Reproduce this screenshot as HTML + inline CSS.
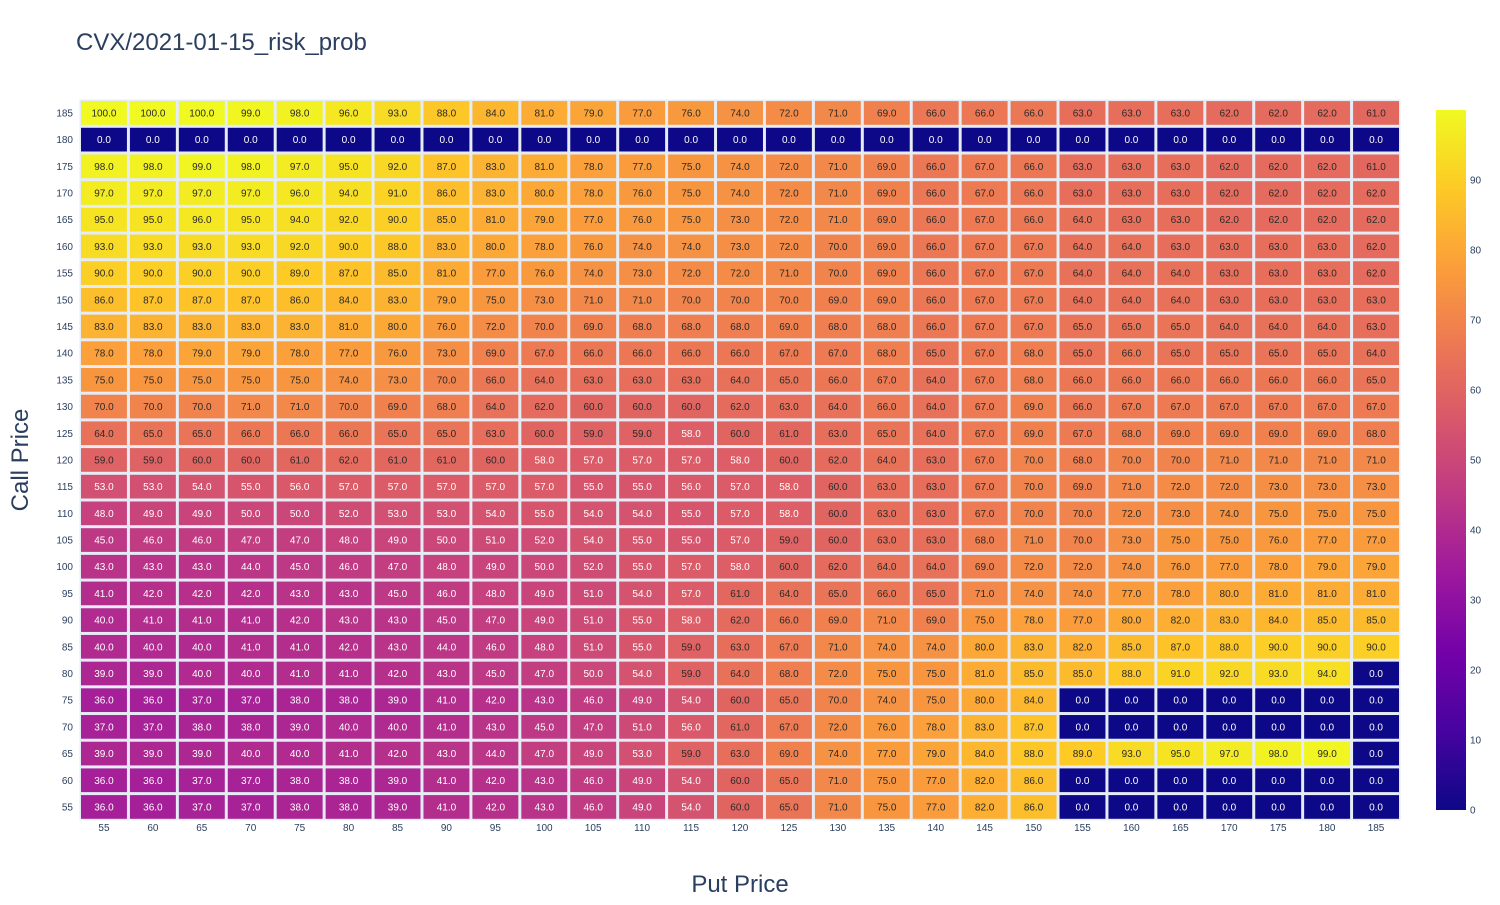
<!DOCTYPE html>
<html><head><meta charset="utf-8"><style>
body{margin:0;background:#fff;font-family:"Liberation Sans","DejaVu Sans",sans-serif}
</style></head><body>
<svg id="chart" width="1500" height="900" xmlns="http://www.w3.org/2000/svg">
<rect width="1500" height="900" fill="#fff"/>
<text x="76" y="50" font-size="24" fill="#2a3f5f">CVX/2021-01-15_risk_prob</text>
<rect x="79.5" y="99.6" width="1321" height="720.7" fill="#e5ecf6"/>
<g id="cells"></g><g id="labels"></g><g id="ticks"></g>
<text x="740" y="892" font-size="24" fill="#2a3f5f" text-anchor="middle">Put Price</text>
<text transform="translate(28,460) rotate(-90)" font-size="24" fill="#2a3f5f" text-anchor="middle">Call Price</text>
<defs><linearGradient id="plasma" x1="0" y1="1" x2="0" y2="0">
<stop offset="0" stop-color="#0d0887"/><stop offset="0.111" stop-color="#46039f"/><stop offset="0.222" stop-color="#7201a8"/><stop offset="0.333" stop-color="#9c179e"/><stop offset="0.444" stop-color="#bd3786"/><stop offset="0.556" stop-color="#d8576b"/><stop offset="0.667" stop-color="#ed7953"/><stop offset="0.778" stop-color="#fb9f3a"/><stop offset="0.889" stop-color="#fdca26"/><stop offset="1" stop-color="#f0f921"/></linearGradient></defs>
<rect x="1436" y="110" width="30" height="700" fill="url(#plasma)"/>
<g id="cbticks"></g>
</svg>
<script>
const putPrices=[55,60,65,70,75,80,85,90,95,100,105,110,115,120,125,130,135,140,145,150,155,160,165,170,175,180,185];
const callPrices=[185,180,175,170,165,160,155,150,145,140,135,130,125,120,115,110,105,100,95,90,85,80,75,70,65,60,55];
const z185=[100,100,100,99,98,96,93,88,84,81,79,77,76,74,72,71,69,66,66,66,63,63,63,62,62,62,61];
const z180=[0,0,0,0,0,0,0,0,0,0,0,0,0,0,0,0,0,0,0,0,0,0,0,0,0,0,0];
const z175=[98,98,99,98,97,95,92,87,83,81,78,77,75,74,72,71,69,66,67,66,63,63,63,62,62,62,61];
const z170=[97,97,97,97,96,94,91,86,83,80,78,76,75,74,72,71,69,66,67,66,63,63,63,62,62,62,62];
const z165=[95,95,96,95,94,92,90,85,81,79,77,76,75,73,72,71,69,66,67,66,64,63,63,62,62,62,62];
const z160=[93,93,93,93,92,90,88,83,80,78,76,74,74,73,72,70,69,66,67,67,64,64,63,63,63,63,62];
const z155=[90,90,90,90,89,87,85,81,77,76,74,73,72,72,71,70,69,66,67,67,64,64,64,63,63,63,62];
const z150=[86,87,87,87,86,84,83,79,75,73,71,71,70,70,70,69,69,66,67,67,64,64,64,63,63,63,63];
const z145=[83,83,83,83,83,81,80,76,72,70,69,68,68,68,69,68,68,66,67,67,65,65,65,64,64,64,63];
const z140=[78,78,79,79,78,77,76,73,69,67,66,66,66,66,67,67,68,65,67,68,65,66,65,65,65,65,64];
const z135=[75,75,75,75,75,74,73,70,66,64,63,63,63,64,65,66,67,64,67,68,66,66,66,66,66,66,65];
const z130=[70,70,70,71,71,70,69,68,64,62,60,60,60,62,63,64,66,64,67,69,66,67,67,67,67,67,67];
const z125=[64,65,65,66,66,66,65,65,63,60,59,59,58,60,61,63,65,64,67,69,67,68,69,69,69,69,68];
const z120=[59,59,60,60,61,62,61,61,60,58,57,57,57,58,60,62,64,63,67,70,68,70,70,71,71,71,71];
const z115=[53,53,54,55,56,57,57,57,57,57,55,55,56,57,58,60,63,63,67,70,69,71,72,72,73,73,73];
const z110=[48,49,49,50,50,52,53,53,54,55,54,54,55,57,58,60,63,63,67,70,70,72,73,74,75,75,75];
const z105=[45,46,46,47,47,48,49,50,51,52,54,55,55,57,59,60,63,63,68,71,70,73,75,75,76,77,77];
const z100=[43,43,43,44,45,46,47,48,49,50,52,55,57,58,60,62,64,64,69,72,72,74,76,77,78,79,79];
const z95=[41,42,42,42,43,43,45,46,48,49,51,54,57,61,64,65,66,65,71,74,74,77,78,80,81,81,81];
const z90=[40,41,41,41,42,43,43,45,47,49,51,55,58,62,66,69,71,69,75,78,77,80,82,83,84,85,85];
const z85=[40,40,40,41,41,42,43,44,46,48,51,55,59,63,67,71,74,74,80,83,82,85,87,88,90,90,90];
const z80=[39,39,40,40,41,41,42,43,45,47,50,54,59,64,68,72,75,75,81,85,85,88,91,92,93,94,0];
const z75=[36,36,37,37,38,38,39,41,42,43,46,49,54,60,65,70,74,75,80,84,0,0,0,0,0,0,0];
const z70=[37,37,38,38,39,40,40,41,43,45,47,51,56,61,67,72,76,78,83,87,0,0,0,0,0,0,0];
const z65=[39,39,39,40,40,41,42,43,44,47,49,53,59,63,69,74,77,79,84,88,89,93,95,97,98,99,0];
const z60=[36,36,37,37,38,38,39,41,42,43,46,49,54,60,65,71,75,77,82,86,0,0,0,0,0,0,0];
const z55=[36,36,37,37,38,38,39,41,42,43,46,49,54,60,65,71,75,77,82,86,0,0,0,0,0,0,0];
const zRows=[z185,z180,z175,z170,z165,z160,z155,z150,z145,z140,z135,z130,z125,z120,z115,z110,z105,z100,z95,z90,z85,z80,z75,z70,z65,z60,z55];
const cbTicks=[0,10,20,30,40,50,60,70,80,90];

const NS="http://www.w3.org/2000/svg";
const X0=79.5,X1=1400.5,Y0=99.6,Y1=820.3;
const cw=(X1-X0)/putPrices.length, ch=(Y1-Y0)/callPrices.length;
const xPos=i=>X0+i*cw, yPos=j=>Y0+j*ch;
const cbY=v=>810-v*7;
const stops=["#0d0887","#46039f","#7201a8","#9c179e","#bd3786","#d8576b","#ed7953","#fb9f3a","#fdca26","#f0f921"].map(h=>[parseInt(h.substr(1,2),16),parseInt(h.substr(3,2),16),parseInt(h.substr(5,2),16)]);
function color(v){const t=Math.max(0,Math.min(1,v/100))*9;const i=Math.min(8,Math.floor(t)),f=t-i;
 const c=stops[i].map((a,k)=>Math.round(a+(stops[i+1][k]-a)*f));return c;}
function mk(tag,attrs,parent){const e=document.createElementNS(NS,tag);for(const k in attrs)e.setAttribute(k,attrs[k]);parent.appendChild(e);return e;}
const gC=document.getElementById('cells'),gL=document.getElementById('labels'),gT=document.getElementById('ticks'),gB=document.getElementById('cbticks');
zRows.forEach((row,j)=>{row.forEach((v,i)=>{
 const c=color(v);
 const r=mk('rect',{x:xPos(i)+1.5,y:yPos(j)+1.5,width:cw-3,height:ch-3,fill:`rgb(${c})`},gC);
 
 
 const lum=0.299*c[0]+0.587*c[1]+0.114*c[2];
 const t=mk('text',{x:xPos(i)+cw/2,y:yPos(j)+ch/2+3.5,'font-size':10,'text-anchor':'middle',fill:lum<135?'#fff':'#2a2a2a'},gL);
 
 
 t.textContent=v.toFixed(1);
});});
putPrices.forEach((p,i)=>{const t=mk('text',{x:xPos(i)+cw/2,y:831,'font-size':10,'text-anchor':'middle',fill:'#2a3f5f'},gT);
 
 
 t.textContent=p;});
callPrices.forEach((p,j)=>{const t=mk('text',{x:73,y:yPos(j)+ch/2+3.5,'font-size':10,'text-anchor':'end',fill:'#2a3f5f'},gT);
 
 
 t.textContent=p;});
cbTicks.forEach(v=>{const t=mk('text',{x:1470,y:cbY(v)+3.5,'font-size':10,fill:'#2a3f5f'},gB);
 
 
 t.textContent=v;});
</script>
</body></html>
